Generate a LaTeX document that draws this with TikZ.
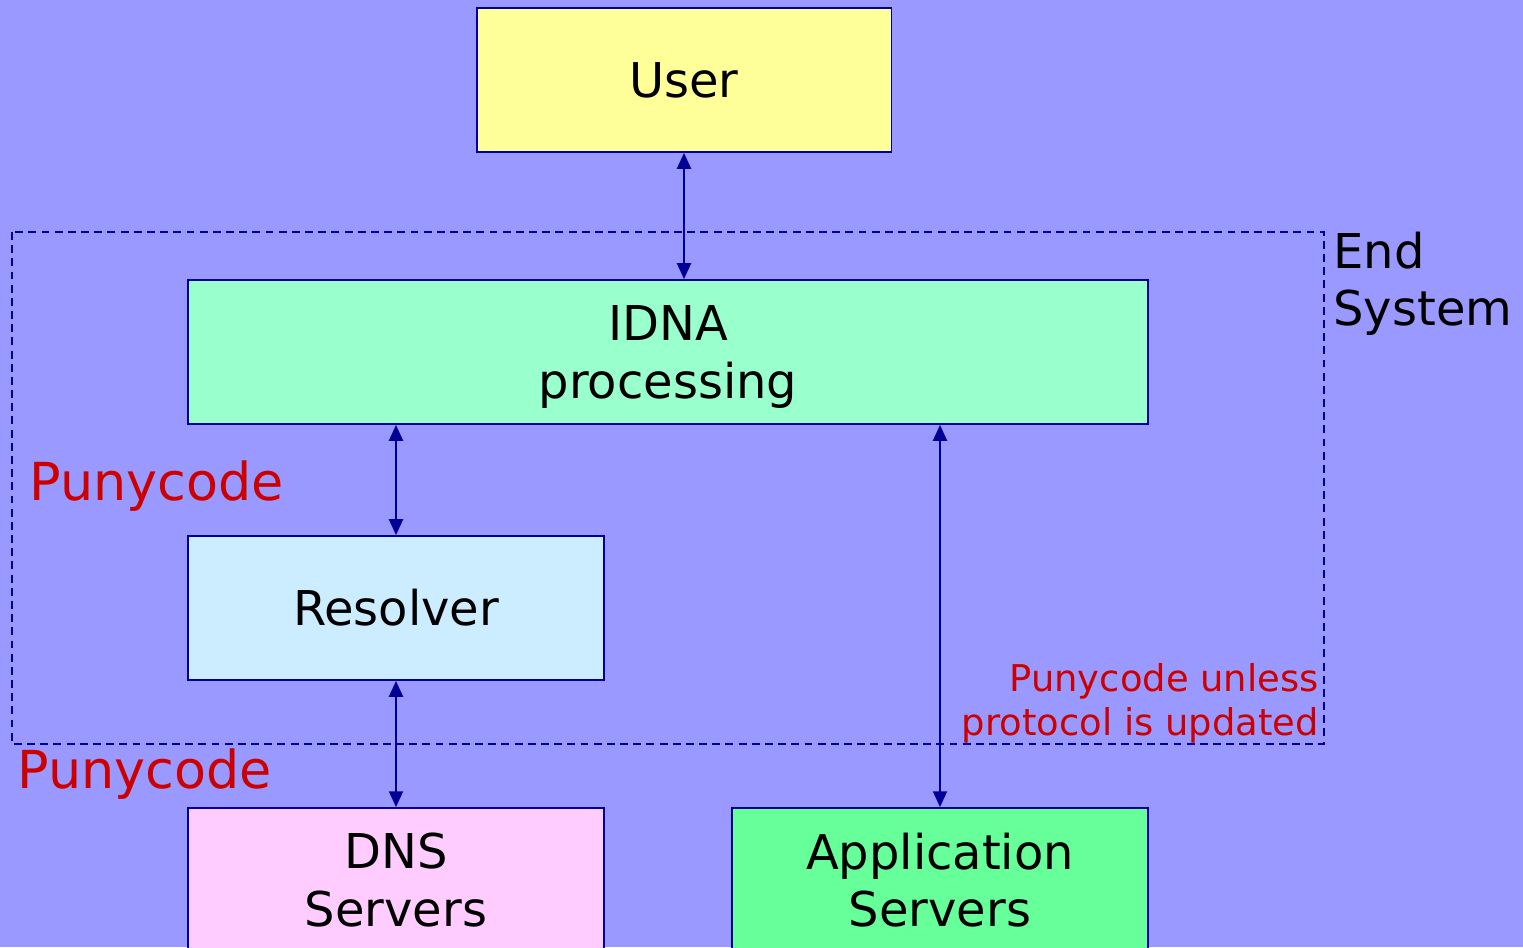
\documentclass[tikz,border=0pt]{standalone}
\usepackage{fontspec}
\setmainfont{DejaVu Sans}
\usetikzlibrary{arrows.meta}

\definecolor{backblue}{HTML}{9999FF}
\definecolor{lineblue}{HTML}{000099}
\definecolor{userfill}{HTML}{FFFF99}
\definecolor{idnafill}{HTML}{99FFCC}
\definecolor{resfill}{HTML}{CCECFF}
\definecolor{dnsfill}{HTML}{FFCCFF}
\definecolor{appfill}{HTML}{66FF99}
\definecolor{punyred}{HTML}{CC0000}

\tikzset{
  box/.style={draw=lineblue, line width=1.1pt, align=center,
    minimum height=2.88cm, inner sep=0pt,
    font=\fontsize{27.3}{32.5}\selectfont},
  link/.style={lineblue, line width=1.1pt, {Triangle[length=9pt,width=8pt]}-{Triangle[length=9pt,width=8pt]}},
  bigred/.style={punyred, inner sep=0pt, font=\fontsize{29.8}{33}\selectfont},
  smallred/.style={punyred, inner sep=0pt, align=right, font=\fontsize{21}{25}\selectfont}
}

\begin{document}
\begin{tikzpicture}[x=0.02cm, y=-0.02cm]
            \clip (0, 0) rectangle (1523, 947);
            \fill[backblue] (0, 0) rectangle (1523, 947);
            \draw[lineblue, line width=1.1pt, dash pattern=on 4.5pt off 3pt] (12, 232) rectangle (1324, 744);
            \node[box, fill=userfill, minimum width=8.3cm] (user) at (684, 80) {User};
            \node[box, fill=idnafill, minimum width=19.2cm, text depth=0pt] (idna) at (668, 352) {IDNA\\processing};
            \node[box, fill=resfill, minimum width=8.32cm] (resolver) at (396, 608) {Resolver};
            \node[box, fill=dnsfill, minimum width=8.32cm] (dns) at (396, 880) {DNS\\Servers};
            \node[box, fill=appfill, minimum width=8.32cm] (app) at (940, 880) {Application\\Servers};
            \draw[link] (user.south) -- (user.south |- idna.north);
            \draw[link] (resolver.north |- idna.south) -- (resolver.north);
            \draw[link] (resolver.south) -- (dns.north);
            \draw[link] (app.north |- idna.south) -- (app.north);
            \node[bigred, anchor=base west] (puny1) at (29, 500) {Punycode};
            \node[bigred, anchor=base west] (puny2) at (17, 788) {Punycode};
            \node[smallred, anchor=east] (unless) at (1319, 703) {Punycode unless\\protocol is updated};
            \node[inner sep=0pt, align=left, anchor=west, font=\fontsize{27.3}{32.5}\selectfont] (endsys) at (1333, 284) {End\\System};
        \end{tikzpicture}
\end{document}
